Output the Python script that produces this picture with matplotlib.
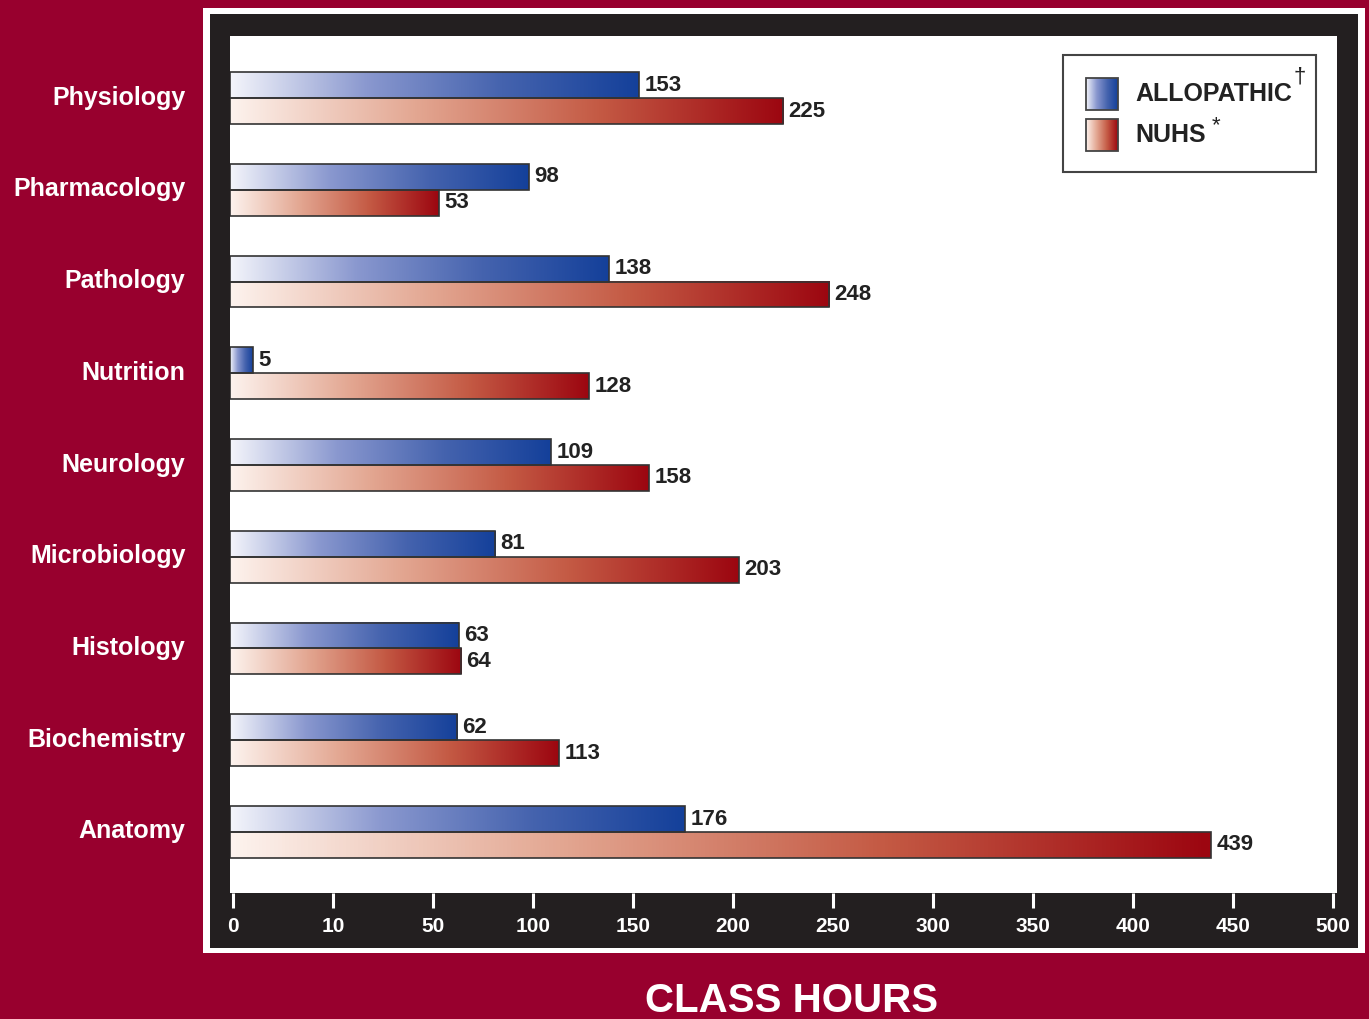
import numpy as np
import matplotlib
matplotlib.use("Agg")
import matplotlib.pyplot as plt
from matplotlib.colors import LinearSegmentedColormap
from matplotlib.patches import Rectangle
from matplotlib.transforms import ScaledTranslation

# data
subjects = ["Physiology", "Pharmacology", "Pathology", "Nutrition", "Neurology",
            "Microbiology", "Histology", "Biochemistry", "Anatomy"]
allopathic = [153, 98, 138, 5, 109, 81, 63, 62, 176]
nuhs = [225, 53, 248, 128, 158, 203, 64, 113, 439]
tick_labels = ["0", "10", "50", "100", "150", "200", "250", "300", "350", "400", "450", "500"]

# the printed axis is not linear: 0..50 takes two tick slots, then 50 per slot
scale_values = [0, 50, 100, 150, 200, 250, 300, 350, 400, 450, 500]
scale_slots = [0, 2, 3, 4, 5, 6, 7, 8, 9, 10, 11]

def to_pos(v):
    return np.interp(v, scale_values, scale_slots)

bg = "#98002e"
frame_black = "#231f20"
text_dark = "#222222"
plt.rcParams["font.family"] = ["Liberation Sans", "DejaVu Sans"]
plt.rcParams["font.weight"] = "bold"

blue_cmap = LinearSegmentedColormap.from_list("blue", ["#f4f5fb", "#8a98cf", "#4563ae", "#14409a"])
red_cmap = LinearSegmentedColormap.from_list("red", ["#fdf3ee", "#e3a792", "#c45a44", "#9c0610"])
grad = np.linspace(0, 1, 256).reshape(1, -1)

W, H = 1369, 1019
fig = plt.figure(figsize=(W / 100, H / 100), dpi=100, facecolor=bg)

def px_rect(x0, y0, x1, y1, color, z):
    r = Rectangle((x0 / W, 1 - y1 / H), (x1 - x0) / W, (y1 - y0) / H,
                  transform=fig.transFigure, facecolor=color, edgecolor="none", zorder=z)
    fig.add_artist(r)

# white then black frame round the plot
px_rect(203, 8, 1365, 953, "white", -3)
px_rect(210, 14, 1358, 948, frame_black, -2)

ax = fig.add_axes([230 / W, 1 - 893 / H, (1337 - 230) / W, (893 - 36) / H])
ax.set_facecolor("white")

bh = 0.283
y = np.arange(len(subjects))
for i in range(len(subjects)):
    for val, cmap, y0, y1 in [(allopathic[i], blue_cmap, i - bh, i),
                              (nuhs[i], red_cmap, i, i + bh)]:
        xe = to_pos(val)
        ax.imshow(grad, extent=[-0.03, xe, y1, y0], cmap=cmap, aspect="auto",
                  interpolation="bilinear", zorder=2)
        ax.add_patch(Rectangle((-0.03, y0), xe + 0.03, y1 - y0, facecolor="none",
                               edgecolor="#333333", lw=1.2, zorder=3))
        ax.annotate(str(val), (xe, (y0 + y1) / 2), xytext=(4, 0), textcoords="offset points",
                    ha="left", va="center", fontsize=16, fontweight="bold", color=text_dark)

ax.set_xlim(-0.03, 11.04)
ax.set_ylim(8.665, -0.676)

ax.set_xticks(range(len(tick_labels)))
ax.set_xticklabels(tick_labels, fontsize=15, fontweight="bold", color="white")
ax.tick_params(axis="x", colors="white", direction="out", length=11, width=2.2, pad=6)
ax.set_yticks(y)
ax.set_yticklabels(subjects, fontsize=18, fontweight="bold", color="white")
ax.tick_params(axis="y", length=0, pad=32)
lift = ScaledTranslation(0, 3 / 100, fig.dpi_scale_trans)
for lab in ax.get_yticklabels():
    lab.set_transform(lab.get_transform() + lift)
for s in ax.spines.values():
    s.set_visible(False)

# legend drawn by hand so the swatches keep the gradient
ax.add_patch(Rectangle((0.7525, 0.841), 0.2285, 0.137, transform=ax.transAxes,
                       facecolor="white", edgecolor="#444444", lw=1.5, zorder=4))
for cmap, yb, yt in [(blue_cmap, 0.914, 0.951), (red_cmap, 0.866, 0.903)]:
    ax.imshow(grad, extent=[0.7733, 0.8022, yb, yt], cmap=cmap, aspect="auto",
              transform=ax.transAxes, zorder=5)
    ax.add_patch(Rectangle((0.7733, yb), 0.0289, yt - yb, transform=ax.transAxes,
                           facecolor="none", edgecolor="#444444", lw=1.3, zorder=6))
ax.text(0.8176, 0.932, "ALLOPATHIC", transform=ax.transAxes, fontsize=18,
        fontweight="bold", color=text_dark, va="center", zorder=6)
ax.text(0.9605, 0.952, "\u2020", transform=ax.transAxes, fontsize=16,
        fontweight="normal", color=text_dark, va="center", zorder=6)
ax.text(0.8176, 0.8845, "NUHS", transform=ax.transAxes, fontsize=18,
        fontweight="bold", color=text_dark, va="center", zorder=6)
ax.text(0.887, 0.895, "*", transform=ax.transAxes, fontsize=16,
        fontweight="normal", color=text_dark, va="center", zorder=6)

fig.text(792 / W, 7 / H, "CLASS HOURS", ha="center", va="baseline",
         fontsize=29, fontweight="bold", color="white")

fig.savefig("out.png", dpi=100, facecolor=bg)
